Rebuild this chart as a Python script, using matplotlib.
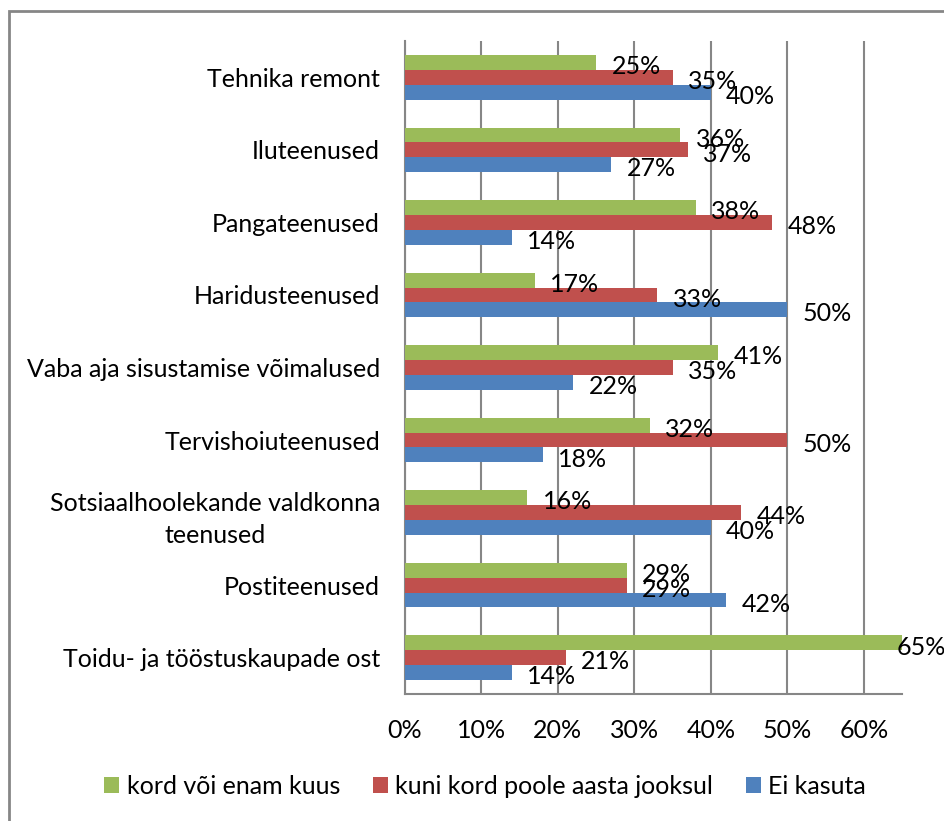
import matplotlib.pyplot as plt
import numpy as np
from matplotlib.patches import Rectangle

plt.rcParams['font.family'] = ['Lato', 'DejaVu Sans']

# andmed (ülevalt alla)
kategooriad = [
    "Tehnika remont",
    "Iluteenused",
    "Pangateenused",
    "Haridusteenused",
    "Vaba aja sisustamise võimalused",
    "Tervishoiuteenused",
    "Sotsiaalhoolekande valdkonna\nteenused",
    "Postiteenused",
    "Toidu- ja tööstuskaupade ost",
]
kord_kuus = [0.25, 0.36, 0.38, 0.17, 0.41, 0.32, 0.16, 0.29, 0.65]
poole_aasta = [0.35, 0.37, 0.48, 0.33, 0.35, 0.50, 0.44, 0.29, 0.21]
ei_kasuta = [0.40, 0.27, 0.14, 0.50, 0.22, 0.18, 0.40, 0.42, 0.14]

seeria_nimed = ["kord või enam kuus", "kuni kord poole aasta jooksul", "Ei kasuta"]
varvid = ["#9BBB59", "#C0504D", "#4F81BD"]
x_ticks = [0, 0.1, 0.2, 0.3, 0.4, 0.5, 0.6]

FS = 18
XMAX = 0.65

fig = plt.figure(figsize=(9.45, 8.21), dpi=100)
ax = fig.add_axes([405/945, 1 - 694/821, (902-405)/945, (694-41)/821])

n = len(kategooriad)
y = np.arange(n)[::-1]
h = 0.205

for i, (vals, nimi, c) in enumerate(zip([kord_kuus, poole_aasta, ei_kasuta], seeria_nimed, varvid)):
    pos = y + h * (1 - i)
    ax.barh(pos, vals, height=h, color=c, label=nimi, zorder=3)
    for p, v in zip(pos, vals):
        # Excel lükkab telje lõpus oleva sildi sissepoole
        dx = -4 if v >= XMAX else 11
        ax.annotate(f"{round(v*100)}%", (v, p), xytext=(dx, -3), textcoords='offset points',
                    ha='left', va='center', fontsize=FS, color='black',
                    annotation_clip=False, zorder=4)

ax.set_xlim(0, XMAX)
ax.set_ylim(-0.5, n - 0.5)
ax.set_xticks(x_ticks)
ax.set_xticklabels([f"{int(round(t*100))}%" for t in x_ticks])
ax.set_yticks(y)
ax.set_yticklabels(kategooriad)
for lab in ax.get_yticklabels():
    lab.set_multialignment('center')
    lab.set_linespacing(1.5)
ax.tick_params(axis='both', length=0, labelsize=FS)
ax.tick_params(axis='x', pad=18)
ax.tick_params(axis='y', pad=18)

ax.grid(axis='x', color='#868686', linewidth=1.5, zorder=0)
for s in ['top', 'right']:
    ax.spines[s].set_visible(False)
for s in ['left', 'bottom']:
    ax.spines[s].set_color('#868686')
    ax.spines[s].set_linewidth(1.5)

fig.legend(loc='center', bbox_to_anchor=(485/945, 1 - 786/821), ncol=3, frameon=False,
           fontsize=FS, handlelength=0.6, handleheight=0.6, handletextpad=0.3,
           columnspacing=1.3)

# raam ümber joonise
fig.patches.append(Rectangle((9/945, -0.1), 2, 1 - 11/821 + 0.1, transform=fig.transFigure,
                             fill=False, edgecolor='#868686', linewidth=2))

fig.savefig("out.png", dpi=100)
